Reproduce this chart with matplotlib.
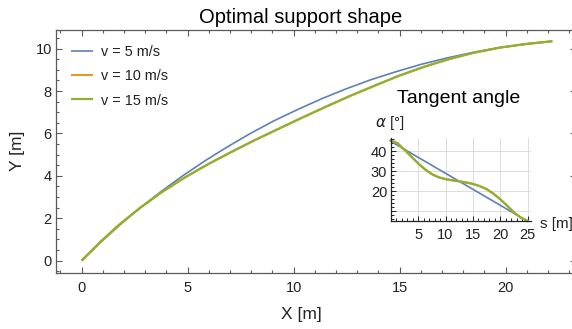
import matplotlib
matplotlib.use("Agg")
import matplotlib.pyplot as plt
from matplotlib.ticker import MultipleLocator, FixedLocator, FixedFormatter

plt.rcParams['font.family'] = ['Liberation Sans', 'DejaVu Sans']

# Support shapes (x, y in metres) for three speeds
x_v5 = [0, 0.90, 1.83, 2.79, 3.77, 4.78, 5.82, 6.88, 7.96, 9.06, 10.19,
        11.33, 12.49, 13.66, 14.85, 16.05, 17.27, 18.49, 19.72, 20.96, 22.20]
y_v5 = [0, 0.87, 1.71, 2.51, 3.28, 4.01, 4.71, 5.37, 6.00, 6.59, 7.13,
        7.64, 8.11, 8.54, 8.92, 9.27, 9.57, 9.83, 10.05, 10.22, 10.35]
x_v10 = [0, 0.88, 1.80, 2.77, 3.78, 4.83, 5.91, 7.01, 8.12, 9.25, 10.37,
         11.50, 12.64, 13.79, 14.94, 16.11, 17.30, 18.51, 19.73, 20.96, 22.20]
y_v10 = [0, 0.88, 1.72, 2.50, 3.23, 3.90, 4.52, 5.10, 5.66, 6.20, 6.73,
         7.25, 7.76, 8.24, 8.71, 9.13, 9.50, 9.81, 10.05, 10.22, 10.35]
x_v15 = [0, 0.88, 1.80, 2.77, 3.78, 4.83, 5.91, 7.01, 8.12, 9.25, 10.37,
         11.50, 12.64, 13.79, 14.94, 16.11, 17.30, 18.51, 19.73, 20.96, 22.20]
y_v15 = [0, 0.88, 1.72, 2.50, 3.23, 3.90, 4.52, 5.10, 5.66, 6.20, 6.73,
         7.25, 7.76, 8.24, 8.71, 9.13, 9.50, 9.81, 10.05, 10.22, 10.35]

# Tangent angle along the arc length s
s_arc = [0, 1.25, 2.5, 3.75, 5, 6.25, 7.5, 8.75, 10, 11.25, 12.5,
         13.75, 15, 16.25, 17.5, 18.75, 20, 21.25, 22.5, 23.75, 25]
alpha_v5 = [45, 43, 41, 39, 37, 35, 33, 31, 29, 27, 25,
            23, 21, 19, 17, 15, 13, 11, 9, 7, 5]
alpha_v10 = [45.5, 44.0, 40.8, 37.4, 34.0, 31.0, 28.6, 27.0, 26.1, 25.5, 25.0,
             24.4, 23.7, 22.6, 21.1, 18.8, 16.0, 12.8, 9.4, 6.8, 5.2]
alpha_v15 = [45.5, 44.0, 40.8, 37.4, 34.0, 31.0, 28.6, 27.0, 26.1, 25.5, 25.0,
             24.4, 23.7, 22.6, 21.1, 18.8, 16.0, 12.8, 9.4, 6.8, 5.2]

labels = ['v = 5 m/s', 'v = 10 m/s', 'v = 15 m/s']
colors = ['#5e81b5', '#e19c24', '#8fb032']
widths = [1.2, 1.5, 1.6]

W, H = 572, 329
fig = plt.figure(figsize=(W / 100, H / 100), dpi=100)


def px(x0, y0, x1, y1):
    """Axes rectangle from pixel corners (top-left origin)."""
    return [x0 / W, 1 - y1 / H, (x1 - x0) / W, (y1 - y0) / H]


frame_col = '#5a5a5a'
text_col = '#222222'

ax = fig.add_axes(px(56, 30, 575.6, 272.7))
for xs, ys, lab, c, lw in zip([x_v5, x_v10, x_v15], [y_v5, y_v10, y_v15],
                              labels, colors, widths):
    ax.plot(xs, ys, color=c, lw=lw, label=lab, solid_capstyle='butt')
ax.set_xlim(-1.21, 23.3)
ax.set_ylim(-0.57, 10.88)
ax.xaxis.set_major_locator(MultipleLocator(5))
ax.xaxis.set_minor_locator(MultipleLocator(1))
ax.yaxis.set_major_locator(MultipleLocator(2))
ax.yaxis.set_minor_locator(MultipleLocator(0.5))
ax.tick_params(which='both', direction='in', top=True, right=True,
               color=frame_col, labelcolor=text_col, labelsize=10.5, width=0.8)
ax.tick_params(which='major', length=4.5)
ax.tick_params(which='minor', length=2.5)
ax.tick_params(axis='x', pad=6)
ax.tick_params(axis='y', pad=3)
for sp in ax.spines.values():
    sp.set_color(frame_col)
    sp.set_linewidth(0.9)

leg = ax.legend(loc='upper left', bbox_to_anchor=(0.012, 0.975), frameon=False,
                fontsize=10.4, handlelength=1.55, handletextpad=0.55,
                labelspacing=0.72, borderaxespad=0.2)
for t in leg.get_texts():
    t.set_color(text_col)

fig.text(301 / W, 1 - 22.7 / H, 'Optimal support shape', ha='center',
         va='baseline', fontsize=14.5, color='black')
fig.text(301 / W, 1 - 319.5 / H, 'X [m]', ha='center', va='baseline',
         fontsize=12.5, color=text_col)
fig.text(17.5 / W, 1 - 150.5 / H, 'Y [m]', ha='center', va='center',
         rotation=90, fontsize=12.5, color=text_col)

# Inset: tangent angle
axi = fig.add_axes(px(390.7, 137.7, 531, 221.3))
axi.patch.set_alpha(0)
for a, c, lw in zip([alpha_v5, alpha_v10, alpha_v15], colors, widths):
    axi.plot(s_arc, a, color=c, lw=lw, clip_on=False)
axi.set_xlim(0, 25.6)
axi.set_ylim(5, 46.8)
axi.xaxis.set_major_locator(FixedLocator([5, 10, 15, 20, 25]))
axi.xaxis.set_minor_locator(MultipleLocator(1))
axi.yaxis.set_major_locator(FixedLocator([10, 20, 30, 40]))
axi.yaxis.set_major_formatter(FixedFormatter(['', '20', '30', '40']))
axi.yaxis.set_minor_locator(MultipleLocator(2))
axi.grid(True, which='major', color='#dcdcdc', lw=0.7)
axi.set_axisbelow(True)
for side in ['top', 'right']:
    axi.spines[side].set_visible(False)
for side in ['left', 'bottom']:
    axi.spines[side].set_color('#222222')
    axi.spines[side].set_linewidth(0.9)
axi.tick_params(which='both', direction='in', color='#222222',
                labelcolor=text_col, labelsize=10.5, width=0.7)
axi.tick_params(which='major', length=3.5)
axi.tick_params(which='minor', length=2)
axi.tick_params(axis='x', pad=5)
axi.tick_params(axis='y', pad=2.5)

fig.text(459 / W, 1 - 98.5 / H, 'Tangent angle', ha='center', va='center',
         fontsize=14, color='black')
fig.text(390 / W, 1 - 123 / H, r'$\alpha$ [°]', ha='center', va='center',
         fontsize=11, color=text_col)
fig.text(540 / W, 1 - 224 / H, 's [m]', ha='left', va='center',
         fontsize=11, color=text_col)

fig.savefig('out.png', dpi=100)
